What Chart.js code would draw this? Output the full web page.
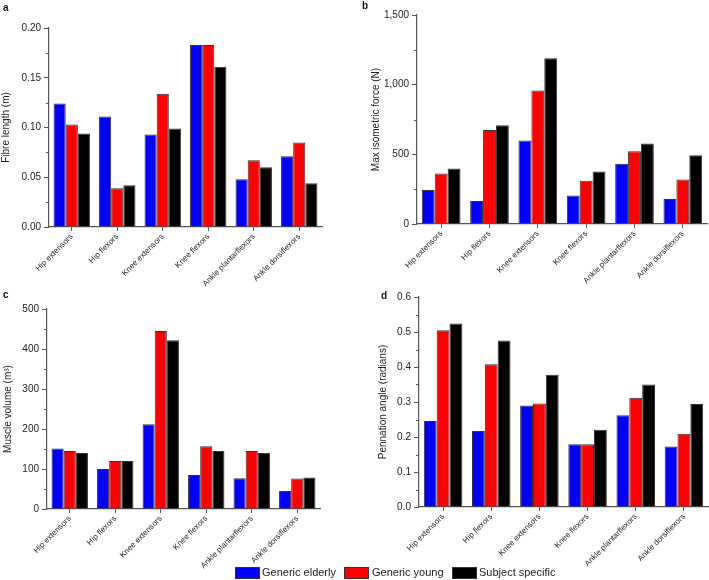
<!DOCTYPE html>
<html>
<head>
<meta charset="utf-8">
<script src="https://cdn.jsdelivr.net/npm/chart.js@4/dist/chart.umd.min.js"></script>
<style>
    body { margin: 0; background: #fff; font-family: 'Liberation Sans', Arial, sans-serif; }
    #wrap { position: relative; width: 709px; height: 580px; overflow: hidden; }
    #wrap canvas { position: absolute; }
    .letter { position: absolute; font-weight: bold; font-size: 10px; color: #111; }
    #legend { position: absolute; top: 565px; left: 0; width: 709px; height: 15px; font-size: 11px; color: #222; }
    .leg-item { position: absolute; top: 0; height: 15px; line-height: 15px; white-space: nowrap; }
    .leg-box { position: absolute; top: 2px; left: 0; width: 23px; height: 10px; border: 1px solid #333; }
    .leg-text { position: absolute; top: 0; }
</style>
</head>
<body>
<div id="wrap">
    <canvas id="pa" width="355" height="290" style="left:0;top:0"></canvas>
    <canvas id="pb" width="354" height="290" style="left:355px;top:0"></canvas>
    <canvas id="pc" width="355" height="300" style="left:0;top:280px"></canvas>
    <canvas id="pd" width="354" height="300" style="left:355px;top:280px"></canvas>
    <div class="letter" style="left:3px;top:2px">a</div>
    <div class="letter" style="left:362px;top:0px">b</div>
    <div class="letter" style="left:3px;top:289px">c</div>
    <div class="letter" style="left:381px;top:290px">d</div>
    <div id="legend"></div>
</div>
<script>
// ── Data ──
const categories = ['Hip extensors', 'Hip flexors', 'Knee extensors', 'Knee flexors', 'Ankle plantarflexors', 'Ankle dorsiflexors'];
const seriesNames = ['Generic elderly', 'Generic young', 'Subject specific'];
const seriesColors = ['#0000ff', '#ff0000', '#000000'];

// a — fibre length (m)
const fibreElderly = [0.124, 0.111, 0.093, 0.183, 0.048, 0.071];
const fibreYoung   = [0.103, 0.039, 0.134, 0.183, 0.067, 0.085];
const fibreSubject = [0.094, 0.042, 0.099, 0.161, 0.060, 0.044];

// b — max isometric force (N)
const forceElderly = [244, 165, 600, 205, 432, 179];
const forceYoung   = [363, 674, 958, 310, 523, 320];
const forceSubject = [399, 709, 1189, 377, 578, 494];

// c — muscle volume
const volumeElderly = [151, 100, 212, 85, 77, 45];
const volumeYoung   = [145, 120, 445, 157, 145, 76];
const volumeSubject = [140, 120, 422, 145, 140, 79];

// d — pennation angle (radians)
const angleElderly = [0.246, 0.217, 0.290, 0.179, 0.262, 0.173];
const angleYoung   = [0.505, 0.408, 0.296, 0.179, 0.312, 0.209];
const angleSubject = [0.524, 0.476, 0.378, 0.221, 0.350, 0.294];

// ── Panels ──
const FONT = "'Liberation Sans', Arial, sans-serif";
const AXIS = '#555';

const panels = [
    { id: 'pa', series: [fibreElderly, fibreYoung, fibreSubject], title: 'Fibre length (m)',
      max: 0.2, step: 0.05, fmt: v => v.toFixed(2),
      plot: { left: 49, right: 33, top: 28, xh: 63 }, titlePad: 0 },
    { id: 'pb', series: [forceElderly, forceYoung, forceSubject], title: 'Max isometric force (N)',
      max: 1500, step: 500, fmt: v => v.toLocaleString('en-US'),
      plot: { left: 62, right: 2, top: 15, xh: 66 }, titlePad: 15 },
    { id: 'pc', series: [volumeElderly, volumeYoung, volumeSubject], title: 'Muscle volume (m\u00B3)',
      max: 500, step: 100, fmt: v => String(Math.round(v)),
      plot: { left: 47, right: 35, top: 29, xh: 71 }, titlePad: 2 },
    { id: 'pd', series: [angleElderly, angleYoung, angleSubject], title: 'Pennation angle (radians)',
      max: 0.6, step: 0.1, fmt: v => v.toFixed(1),
      plot: { left: 64, right: 1, top: 17, xh: 73 }, titlePad: 22 },
];

// minor ticks halfway between the major y ticks
const minorTicks = {
    id: 'minorTicks',
    afterDraw(chart) {
        const y = chart.scales.y;
        const ctx = chart.ctx;
        const vals = y.ticks.map(t => t.value);
        ctx.save();
        ctx.strokeStyle = AXIS;
        ctx.lineWidth = 1;
        for (let i = 0; i < vals.length - 1; i++) {
            const py = Math.round(y.getPixelForValue((vals[i] + vals[i + 1]) / 2)) + 0.5;
            ctx.beginPath();
            ctx.moveTo(y.right - 3, py);
            ctx.lineTo(y.right, py);
            ctx.stroke();
        }
        ctx.restore();
    }
};

panels.forEach(p => {
    new Chart(document.getElementById(p.id), {
        type: 'bar',
        data: {
            labels: categories,
            datasets: p.series.map((data, i) => ({
                label: seriesNames[i],
                data,
                backgroundColor: seriesColors[i],
                borderColor: '#333',
                borderWidth: 1,
                categoryPercentage: 0.8,
                barPercentage: 1.0,
            })),
        },
        options: {
            responsive: false,
            animation: false,
            layout: { padding: { left: 0, right: p.plot.right, top: p.plot.top, bottom: 0 } },
            plugins: { legend: { display: false }, tooltip: { enabled: false } },
            scales: {
                x: {
                    afterFit: s => { s.height = p.plot.xh; },
                    border: { color: AXIS, width: 1.2 },
                    grid: { drawOnChartArea: false, offset: false, tickLength: 4, color: AXIS },
                    ticks: {
                        autoSkip: false, maxRotation: 45, minRotation: 45, padding: 1,
                        color: '#222', font: { family: FONT, size: 8 },
                    },
                },
                y: {
                    min: 0, max: p.max,
                    afterFit: s => { s.width = p.plot.left; },
                    border: { color: AXIS, width: 1.2 },
                    grid: { drawOnChartArea: false, tickLength: 5, color: AXIS },
                    ticks: {
                        stepSize: p.step, padding: 3, color: '#222',
                        font: { family: FONT, size: 10 },
                        callback: v => p.fmt(v),
                    },
                    title: {
                        display: true, text: p.title, color: '#222',
                        font: { family: FONT, size: 10 },
                        padding: { top: p.titlePad, bottom: 0 },
                    },
                },
            },
        },
        plugins: [minorTicks],
    });
});

// ── Legend ──
const legendPos = [{ box: 235, text: 262 }, { box: 344, text: 372 }, { box: 452, text: 479 }];
const legend = document.getElementById('legend');
seriesNames.forEach((name, i) => {
    const item = document.createElement('div');
    item.className = 'leg-item';
    item.style.left = legendPos[i].box + 'px';
    item.innerHTML = `<div class="leg-box" style="background:${seriesColors[i]}"></div>
        <span class="leg-text" style="left:${legendPos[i].text - legendPos[i].box}px">${name}</span>`;
    legend.appendChild(item);
});
</script>
</body>
</html>
